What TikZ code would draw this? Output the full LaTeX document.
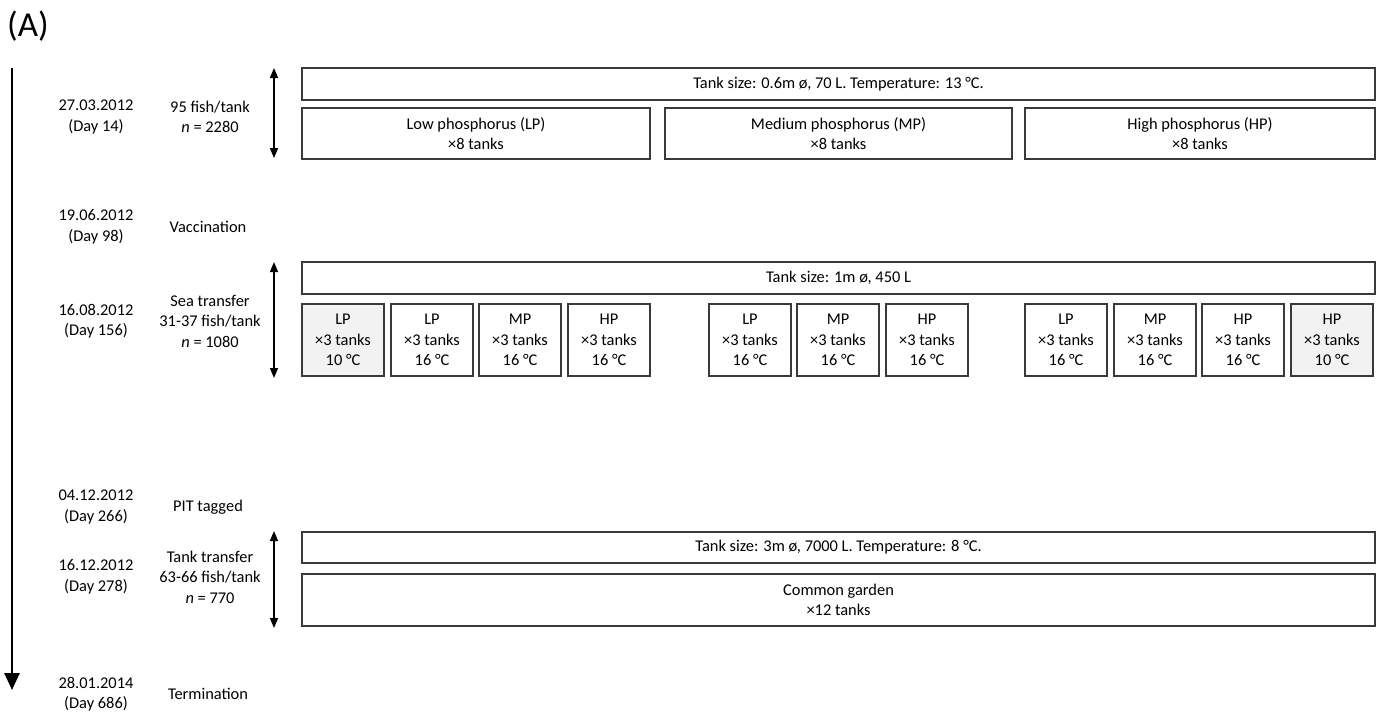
\documentclass[tikz,border=0pt]{standalone}
\usepackage{fontspec}
\setmainfont{Carlito}
\usetikzlibrary{arrows.meta}
\definecolor{edge}{HTML}{3A3A3A}
\definecolor{cool}{HTML}{F2F2F2}
\tikzset{
  x=1pt, y=-1pt,
  txt/.style={align=center, inner sep=0pt, font=\fontsize{16.4}{20.5}\selectfont},
  tank/.style={txt, draw=edge, line width=1.1pt, fill=white, minimum height=#1},
  tank/.default={32pt},
  small/.style={tank=72pt, minimum width=82pt},
  coolbox/.style={small, fill=cool},
  span/.style={{Triangle[width=8pt,length=10pt]}-{Triangle[width=8pt,length=10pt]}, line width=1.5pt},
  timeline/.style={-{Triangle[width=15pt,length=17pt]}, line width=2.6pt},
}
\begin{document}
\begin{tikzpicture}
\useasboundingbox (0,0) rectangle (1383,712);

\node[font=\fontsize{35}{40}\selectfont, inner sep=0pt, anchor=west] (label) at (7,26) {(A)};

% time axis
\coordinate (tstart) at (12,68);
\coordinate (tend) at (12,690);
\draw[timeline] (tstart) -- (tend);

% dates and events
\node[txt] (d1) at (96,117) {27.03.2012\\(Day 14)};
\node[txt] (e1) at (210,117) {95 fish/tank\\\textit{n} = 2280};
\node[txt] (d2) at (96,227) {19.06.2012\\(Day 98)};
\node[txt] (e2) at (208,227) {Vaccination};
\node[txt] (d3) at (96,321) {16.08.2012\\(Day 156)};
\node[txt] (e3) at (210,321) {Sea transfer\\31-37 fish/tank\\\textit{n} = 1080};
\node[txt] (d4) at (96,507) {04.12.2012\\(Day 266)};
\node[txt] (e4) at (208,507) {PIT tagged};
\node[txt] (d5) at (96,577) {16.12.2012\\(Day 278)};
\node[txt] (e5) at (210,577) {Tank transfer\\63-66 fish/tank\\\textit{n} = 770};
\node[txt] (d6) at (96,694) {28.01.2014\\(Day 686)};
\node[txt] (e6) at (208,694) {Termination};

% period spans
\coordinate (s1a) at (274,68);  \coordinate (s1b) at (274,158);
\coordinate (s2a) at (274,262); \coordinate (s2b) at (274,378);
\coordinate (s3a) at (274,531); \coordinate (s3b) at (274,628);
\draw[span] (s1a) -- (s1b);
\draw[span] (s2a) -- (s2b);
\draw[span] (s3a) -- (s3b);

% freshwater period
\node[tank, minimum width=1073pt] (fw) at (838.5,84) {Tank size: 0.6m ø, 70 L. Temperature: 13 °C.};
\node[tank=51pt, minimum width=348pt] (lp) at (476,133.5) {Low phosphorus (LP)\\×8 tanks};
\node[tank=51pt, minimum width=347pt] (mp) at (838.5,133.5) {Medium phosphorus (MP)\\×8 tanks};
\node[tank=51pt, minimum width=350pt] (hp) at (1200,133.5) {High phosphorus (HP)\\×8 tanks};

% sea water period
\node[tank, minimum width=1073pt] (sw) at (838.5,278) {Tank size: 1m ø, 450 L};
\node[coolbox] (g1) at (343,340) {LP\\×3 tanks\\10 °C};
\node[small]   (g2) at (432,340) {LP\\×3 tanks\\16 °C};
\node[small]   (g3) at (520,340) {MP\\×3 tanks\\16 °C};
\node[small]   (g4) at (609,340) {HP\\×3 tanks\\16 °C};
\node[small]   (g5) at (750,340) {LP\\×3 tanks\\16 °C};
\node[small]   (g6) at (838,340) {MP\\×3 tanks\\16 °C};
\node[small]   (g7) at (927,340) {HP\\×3 tanks\\16 °C};
\node[small]   (g8) at (1066,340) {LP\\×3 tanks\\16 °C};
\node[small]   (g9) at (1155,340) {MP\\×3 tanks\\16 °C};
\node[small]   (g10) at (1243,340) {HP\\×3 tanks\\16 °C};
\node[coolbox] (g11) at (1332,340) {HP\\×3 tanks\\10 °C};

% common garden period
\node[tank=31pt, minimum width=1073pt] (cg) at (838.5,547.5) {Tank size: 3m ø, 7000 L. Temperature: 8 °C.};
\node[tank=52pt, minimum width=1073pt] (cgt) at (838.5,600) {Common garden\\×12 tanks};
\end{tikzpicture}
\end{document}
